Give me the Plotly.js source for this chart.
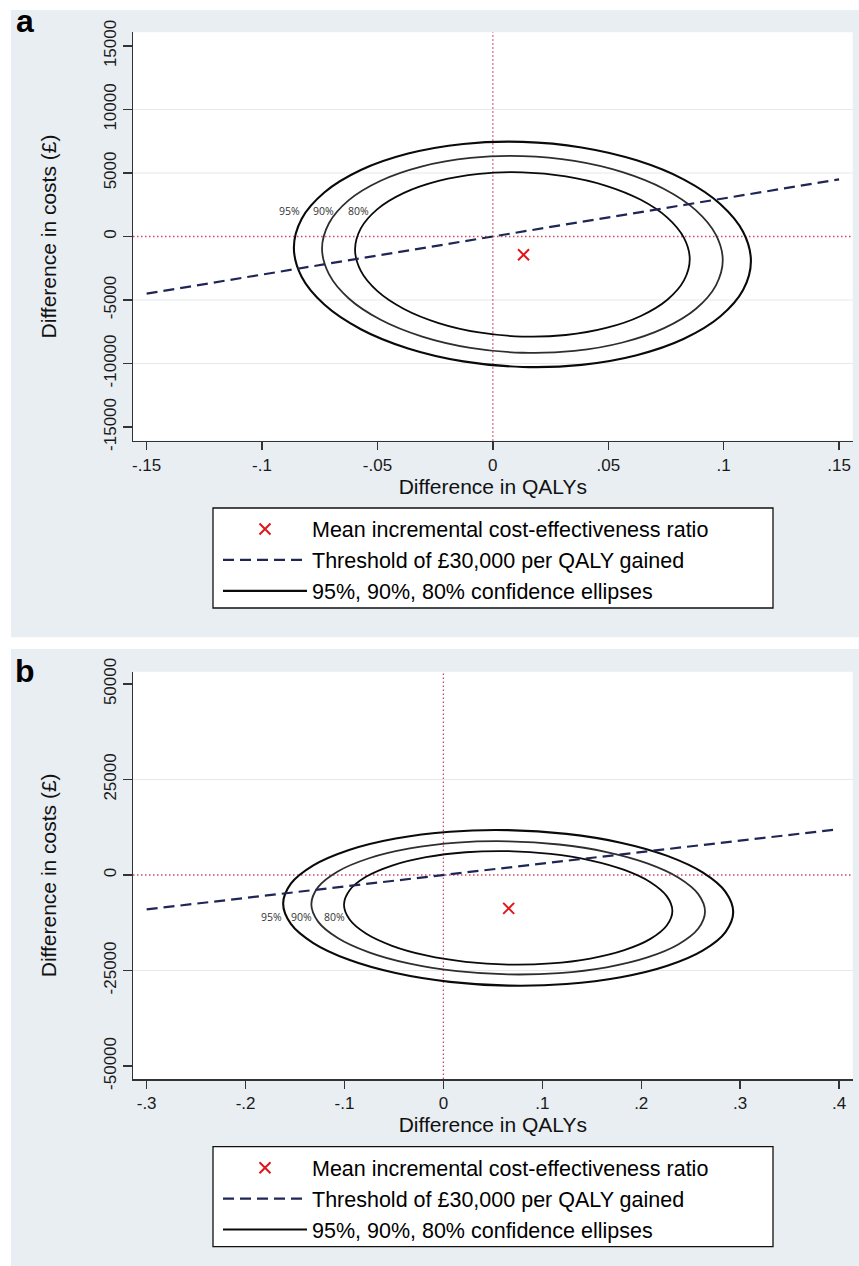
<!DOCTYPE html>
<html>
<head>
<meta charset="utf-8">
<script src="https://cdn.plot.ly/plotly-3.0.1.min.js"></script>
<style>html,body{margin:0;padding:0;background:#fff;}#chart{width:859px;height:1266px;}</style>
</head>
<body>
<div id="chart"></div>
<script>
// ---------- Panel a data ----------
const qalyTicksA = [-0.15, -0.1, -0.05, 0, 0.05, 0.1, 0.15];
const qalyTickTextA = ['-.15', '-.1', '-.05', '0', '.05', '.1', '.15'];
const costTicksA = [-15000, -10000, -5000, 0, 5000, 10000, 15000];
const costTickTextA = ['-15000', '-10000', '-5000', '0', '5000', '10000', '15000'];
const gridA = [-10000, -5000, 5000, 10000];
const meanA = {qaly: [0.0133], cost: [-1440]};
const thresholdA = {qaly: [-0.15, 0.15], cost: [-4500, 4500]};
const ell95Ax = [0.0128, -0.0128, -0.0367, -0.0572, -0.0729, -0.0828, -0.0862, -0.0828, -0.0729, -0.0572, -0.0367, -0.0128, 0.0128, 0.0384, 0.0623, 0.0828, 0.0985, 0.1084, 0.1118, 0.1084, 0.0985, 0.0828, 0.0623, 0.0384, 0.0128];
const ell95Ay = [7452, 7288, 6529, 5233, 3483, 1399, -877, -3189, -5379, -7300, -8816, -9833, -10272, -10108, -9349, -8053, -6303, -4219, -1943, 369, 2559, 4480, 5996, 7013, 7452];
const ell90Ax = [0.0128, -0.0097, -0.0306, -0.0486, -0.0624, -0.0710, -0.0740, -0.0710, -0.0624, -0.0486, -0.0306, -0.0097, 0.0128, 0.0353, 0.0562, 0.0742, 0.0880, 0.0966, 0.0996, 0.0966, 0.0880, 0.0742, 0.0562, 0.0353, 0.0128];
const ell90Ay = [6334, 6191, 5527, 4395, 2866, 1044, -944, -2964, -4879, -6557, -7882, -8770, -9154, -9011, -8347, -7215, -5686, -3864, -1876, 144, 2059, 3737, 5062, 5950, 6334];
const ell80Ax = [0.0128, -0.0060, -0.0235, -0.0385, -0.0500, -0.0572, -0.0597, -0.0572, -0.0500, -0.0385, -0.0235, -0.0060, 0.0128, 0.0316, 0.0491, 0.0641, 0.0756, 0.0828, 0.0853, 0.0828, 0.0756, 0.0641, 0.0491, 0.0316, 0.0128];
const ell80Ay = [5057, 4937, 4383, 3438, 2160, 640, -1021, -2708, -4307, -5708, -6814, -7556, -7877, -7757, -7203, -6258, -4980, -3460, -1799, -112, 1487, 2888, 3994, 4736, 5057];
const ellLabelsA = {text: ['95%', '90%', '80%'], qaly: [-0.088, -0.0735, -0.0584], cost: [2024, 2024, 2024]};

// ---------- Panel b data ----------
const qalyTicksB = [-0.3, -0.2, -0.1, 0, 0.1, 0.2, 0.3, 0.4];
const qalyTickTextB = ['-.3', '-.2', '-.1', '0', '.1', '.2', '.3', '.4'];
const costTicksB = [-50000, -25000, 0, 25000, 50000];
const costTickTextB = ['-50000', '-25000', '0', '25000', '50000'];
const gridB = [-25000, 25000];
const meanB = {qaly: [0.066], cost: [-8730]};
const thresholdB = {qaly: [-0.3, 0.4], cost: [-9000, 12000]};
const ell95Bx = [0.0655, 0.0066, -0.0483, -0.0954, -0.1315, -0.1542, -0.1620, -0.1542, -0.1315, -0.0954, -0.0483, 0.0066, 0.0655, 0.1244, 0.1793, 0.2264, 0.2625, 0.2852, 0.2930, 0.2852, 0.2625, 0.2264, 0.1793, 0.1244, 0.0655];
const ell95By = [11744, 11337, 9568, 6563, 2527, -2272, -7500, -12803, -17820, -22206, -25668, -27966, -28944, -28537, -26768, -23763, -19727, -14928, -9700, -4397, 620, 5006, 8468, 10766, 11744];
const ell90Bx = [0.0655, 0.0140, -0.0340, -0.0752, -0.1068, -0.1267, -0.1335, -0.1267, -0.1068, -0.0752, -0.0340, 0.0140, 0.0655, 0.1170, 0.1650, 0.2062, 0.2378, 0.2577, 0.2645, 0.2577, 0.2378, 0.2062, 0.1650, 0.1170, 0.0655];
const ell90By = [8824, 8475, 6960, 4386, 929, -3180, -7658, -12200, -16496, -20253, -23218, -25186, -26024, -25675, -24160, -21586, -18129, -14020, -9542, -5000, -704, 3053, 6018, 7986, 8824];
const ell80Bx = [0.0655, 0.0225, -0.0175, -0.0519, -0.0783, -0.0948, -0.1005, -0.0948, -0.0783, -0.0519, -0.0175, 0.0225, 0.0655, 0.1085, 0.1485, 0.1829, 0.2093, 0.2258, 0.2315, 0.2258, 0.2093, 0.1829, 0.1485, 0.1085, 0.0655];
const ell80By = [6253, 5955, 4664, 2470, -477, -3980, -7797, -11669, -15331, -18534, -21061, -22739, -23453, -23155, -21864, -19670, -16723, -13220, -9403, -5531, -1869, 1334, 3861, 5539, 6253];
const ellLabelsB = {text: ['95%', '90%', '80%'], qaly: [-0.1737, -0.1434, -0.1105], cost: [-10916, -10916, -10916]};

const legendNames = ['Mean incremental cost-effectiveness ratio', 'Threshold of £30,000 per QALY gained', '95%, 90%, 80% confidence ellipses'];
const panelLetters = ['a', 'b'];

// ---------- styles ----------
const FONT = 'Liberation Sans, Arial, Helvetica, sans-serif';
const BG = '#e8eef1';
const GRID = '#e3eaee';
const AXIS = '#333333';
const RED = '#e0161b';
const NAVY = '#1f2656';
const ZERO = '#c84a68';

function panelTraces(sfx, leg, mean, thr, ells) {
  const xa = 'x' + sfx, ya = 'y' + sfx;
  const styles = [{w: 2.1, c: '#0a0a0a'}, {w: 1.8, c: '#2e2e2e'}, {w: 1.8, c: '#0a0a0a'}];
  const tr = [];
  ells.forEach((e, i) => {
    tr.push({type: 'scatter', mode: 'lines', x: e[0], y: e[1], xaxis: xa, yaxis: ya,
      line: {color: styles[i].c, width: styles[i].w, shape: 'spline', smoothing: 1},
      name: legendNames[2], legend: leg, legendrank: 3, showlegend: i === 0, hoverinfo: 'skip'});
  });
  tr.push({type: 'scatter', mode: 'lines', x: thr.qaly, y: thr.cost, xaxis: xa, yaxis: ya,
    line: {color: NAVY, width: 2.2, dash: '11px,6px'}, name: legendNames[1], legend: leg, legendrank: 2});
  tr.push({type: 'scatter', mode: 'markers', x: mean.qaly, y: mean.cost, xaxis: xa, yaxis: ya,
    marker: {symbol: 'x-thin', size: 11, color: RED, line: {color: RED, width: 2}},
    name: legendNames[0], legend: leg, legendrank: 1});
  return tr;
}

const data = [].concat(
  panelTraces('', 'legend', meanA, thresholdA, [[ell95Ax, ell95Ay], [ell90Ax, ell90Ay], [ell80Ax, ell80Ay]]),
  panelTraces('2', 'legend2', meanB, thresholdB, [[ell95Bx, ell95By], [ell90Bx, ell90By], [ell80Bx, ell80By]])
);

const W = 859, H = 1266;
const px = v => v / W, py = v => 1 - v / H;

function xAxis(domain, range, tv, tt, anchor) {
  return {domain, range, tickvals: tv, ticktext: tt, anchor, ticks: 'outside', ticklen: 8, tickwidth: 1.4,
    tickcolor: AXIS, showline: true, linecolor: AXIS, linewidth: 1.5, showgrid: false, zeroline: false,
    tickfont: {size: 17, color: '#1a1a1a', family: FONT}, fixedrange: true,
    title: {text: 'Difference in QALYs', font: {size: 21, color: '#111', family: FONT}, standoff: 0}};
}
function yAxis(domain, range, tv, tt, anchor) {
  return {domain, range, tickvals: tv, ticktext: tt, anchor, tickangle: -90, ticks: 'outside', ticklen: 9,
    tickwidth: 1.4, tickcolor: AXIS, showline: true, linecolor: AXIS, linewidth: 1.5, showgrid: false,
    zeroline: false, tickfont: {size: 17, color: '#1a1a1a', family: FONT}, fixedrange: true,
    title: {text: 'Difference in costs (£)', font: {size: 21, color: '#111', family: FONT}, standoff: 38}};
}

const domX = [px(133), px(852.7)];
const domYA = [py(440.7), py(32.3)];
const domYB = [py(1079), py(671.7)];

const shapes = [];
// grey panel backgrounds
shapes.push({type: 'rect', xref: 'paper', yref: 'paper', x0: px(11), x1: 1, y0: py(637.3), y1: py(10), fillcolor: BG, line: {width: 0}, layer: 'below'});
shapes.push({type: 'rect', xref: 'paper', yref: 'paper', x0: px(11), x1: 1, y0: 0, y1: py(649), fillcolor: BG, line: {width: 0}, layer: 'below'});
// white plot areas
shapes.push({type: 'rect', xref: 'paper', yref: 'paper', x0: domX[0], x1: domX[1], y0: domYA[0], y1: domYA[1], fillcolor: '#fff', line: {width: 0}, layer: 'below'});
shapes.push({type: 'rect', xref: 'paper', yref: 'paper', x0: domX[0], x1: domX[1], y0: domYB[0], y1: domYB[1], fillcolor: '#fff', line: {width: 0}, layer: 'below'});
// legend boxes
shapes.push({type: 'rect', xref: 'paper', yref: 'paper', x0: px(213), x1: px(773), y0: py(608), y1: py(508), fillcolor: '#fff', line: {width: 1.3, color: '#111'}, layer: 'below'});
shapes.push({type: 'rect', xref: 'paper', yref: 'paper', x0: px(213), x1: px(773), y0: py(1246.7), y1: py(1146.7), fillcolor: '#fff', line: {width: 1.3, color: '#111'}, layer: 'below'});
// grid lines
gridA.forEach(v => shapes.push({type: 'line', xref: 'x domain', yref: 'y', x0: 0, x1: 1, y0: v, y1: v, line: {color: GRID, width: 1.2}, layer: 'below'}));
gridB.forEach(v => shapes.push({type: 'line', xref: 'x2 domain', yref: 'y2', x0: 0, x1: 1, y0: v, y1: v, line: {color: GRID, width: 1.2}, layer: 'below'}));
// zero reference lines
[['x', 'y'], ['x2', 'y2']].forEach(([xr, yr]) => {
  shapes.push({type: 'line', xref: xr, yref: yr + ' domain', x0: 0, x1: 0, y0: 0, y1: 1, line: {color: ZERO, width: 1.3, dash: '1.5px,2.5px'}, layer: 'below'});
  shapes.push({type: 'line', xref: xr + ' domain', yref: yr, x0: 0, x1: 1, y0: 0, y1: 0, line: {color: ZERO, width: 1.3, dash: '1.5px,2.5px'}, layer: 'below'});
});

const annotations = [];
const labelFont = {size: 10.5, color: '#333', family: 'Open Sans, Noto Sans, sans-serif'};
ellLabelsA.text.forEach((t, i) => annotations.push({xref: 'x', yref: 'y', x: ellLabelsA.qaly[i], y: ellLabelsA.cost[i], text: t, showarrow: false, font: labelFont}));
ellLabelsB.text.forEach((t, i) => annotations.push({xref: 'x2', yref: 'y2', x: ellLabelsB.qaly[i], y: ellLabelsB.cost[i], text: t, showarrow: false, font: labelFont}));
annotations.push({xref: 'paper', yref: 'paper', x: px(25), y: py(21), xanchor: 'center', yanchor: 'middle', text: '<b>' + panelLetters[0] + '</b>', showarrow: false, font: {size: 32, color: '#000', family: FONT}});
annotations.push({xref: 'paper', yref: 'paper', x: px(25), y: py(671), xanchor: 'center', yanchor: 'middle', text: '<b>' + panelLetters[1] + '</b>', showarrow: false, font: {size: 32, color: '#000', family: FONT}});

function legendCfg(topPx) {
  return {x: px(218), xanchor: 'left', y: py(topPx), yanchor: 'top', bgcolor: 'rgba(0,0,0,0)', borderwidth: 0,
    font: {size: 21.5, color: '#000', family: FONT}, itemwidth: 84, traceorder: 'normal', itemclick: false, itemdoubleclick: false};
}

const layout = {
  width: W, height: H, margin: {l: 0, r: 0, t: 0, b: 0},
  paper_bgcolor: '#fff', plot_bgcolor: 'rgba(0,0,0,0)',
  font: {family: FONT, color: '#111'},
  xaxis: xAxis(domX, [-0.1559, 0.1559], qalyTicksA, qalyTickTextA, 'y'),
  yaxis: yAxis(domYA, [-16080, 16080], costTicksA, costTickTextA, 'x'),
  xaxis2: xAxis(domX, [-0.3138, 0.4138], qalyTicksB, qalyTickTextB, 'y2'),
  yaxis2: yAxis(domYB, [-53400, 53220], costTicksB, costTickTextB, 'x2'),
  shapes, annotations,
  legend: legendCfg(508.5),
  legend2: legendCfg(1147.2),
  showlegend: true
};

Plotly.newPlot('chart', data, layout, {displayModeBar: false, staticPlot: true});
</script>
</body>
</html>
